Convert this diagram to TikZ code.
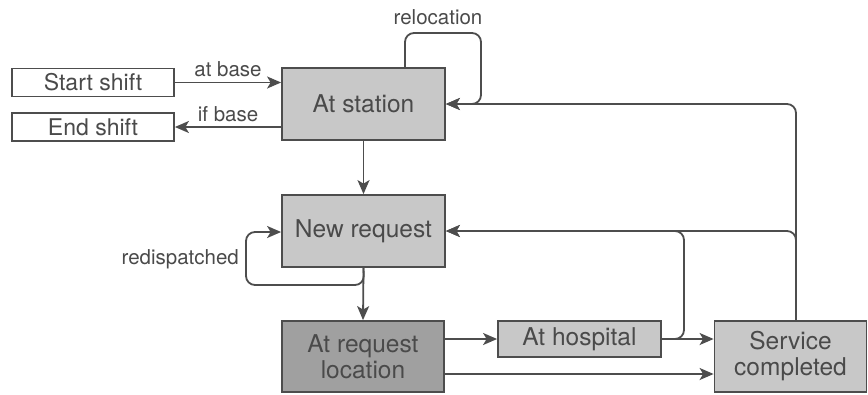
\documentclass[tikz,border=0pt]{standalone}
\usepackage{fontspec}
\setmainfont{TeX Gyre Heros}
\usetikzlibrary{arrows.meta,calc}
\definecolor{ink}{HTML}{4D4D4D}
\definecolor{txt}{HTML}{4A4A4A}
\definecolor{boxlight}{HTML}{C8C8C8}
\definecolor{boxdark}{HTML}{A0A0A0}
\tikzset{
  state/.style={draw=ink, line width=1.8pt, text=txt, inner sep=0pt,
    font=\fontsize{24.5}{26}\selectfont, align=center},
  light/.style={state, fill=boxlight},
  dark/.style={state, fill=boxdark},
  plain/.style={state, fill=white, font=\fontsize{23}{25}\selectfont},
  conn/.style={draw=ink, line width=1.8pt, rounded corners=9pt,
    -{Stealth[length=14pt,width=12pt,inset=3.5pt]}},
  lbl/.style={text=txt, font=\fontsize{20.5}{23}\selectfont, inner sep=0pt}
}
\begin{document}
\begin{tikzpicture}[x=1pt,y=-1pt]
\useasboundingbox (0,0) rectangle (868,394);

% states
\node[plain, minimum width=162pt, minimum height=28pt] (start) at (93,82.5) {Start shift};
\node[plain, minimum width=162pt, minimum height=28pt] (endsh) at (93,127) {End shift};
\node[light, minimum width=163pt, minimum height=72pt] (station) at (363.5,104) {At station};
\node[light, minimum width=163pt, minimum height=72pt] (newreq) at (363.5,231) {New request};
\node[dark, minimum width=162pt, minimum height=71pt] (arl) at (363,356.5) {At request\\location};
\node[light, minimum width=163pt, minimum height=36pt] (hosp) at (579.5,339) {At hospital};
\node[light, minimum width=152pt, minimum height=71pt] (serv) at (790.5,356.5) {Service\\completed};

% corner points of the routed connectors
\coordinate (relA) at (405,68);
\coordinate (relB) at (481,33);
\coordinate (redA) at (364,285);
\coordinate (redB) at (246,232);
\coordinate (hospUp) at (684,231);
\coordinate (servTop) at (796,321);

% shift start / end
\draw[conn] (start.east) -- (start.east -| station.west)
  node[lbl, midway, above=5pt] {at base};
\draw[conn] (station.west |- endsh.east) -- (endsh.east)
  node[lbl, midway, above=4pt] {if base};

% relocation loop
\draw[conn] (relA) -- (relA |- relB) -- (relB) -- (relB |- station.east) -- (station.east);
\node[lbl] (reloc) at (438,17) {relocation};

% main flow
\draw[conn] (station.south) -- (newreq.north);
\draw[conn] (newreq.south) -- (arl.north);

% redispatched loop
\draw[conn] (newreq.south) -- (redA) -- (redA -| redB) -- (redB) -- (redB -| newreq.west);
\node[lbl, anchor=east] (redisp) at (239,259) {redispatched};

% request location onwards
\draw[conn] (arl.east |- hosp.west) -- (hosp.west);
\draw[conn] (hosp.east) -- (serv.west |- hosp.east);
\draw[conn] (arl.east |- 0,374) -- (serv.west |- 0,374);

% returns to new request / station
\draw[conn] (hosp.east) -- (hosp.east -| hospUp) -- (hospUp) -- (newreq.east);
\draw[conn] (servTop) -- (servTop |- newreq.east) -- (newreq.east);
\draw[conn] (servTop) -- (servTop |- station.east) -- (station.east);
\end{tikzpicture}
\end{document}
